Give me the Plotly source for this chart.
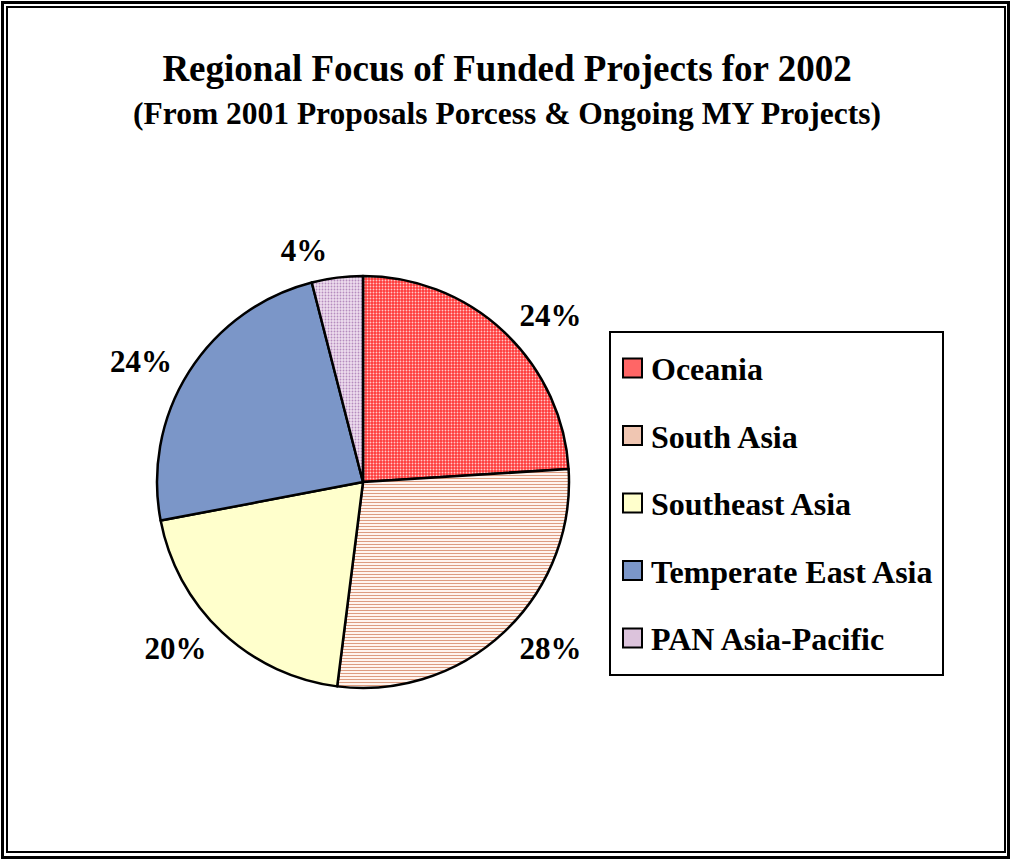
import plotly.graph_objects as go

W, H = 1012, 860

# ---- data ----
regions = ["Oceania", "South Asia", "Southeast Asia", "Temperate East Asia", "PAN Asia-Pacific"]
project_counts = [6, 7, 5, 6, 1]
title_text = "Regional Focus of Funded Projects for 2002"
subtitle_text = "(From 2001 Proposals Porcess & Ongoing MY Projects)"

# ---- styles ----
bg_colors = ["#FF3838", "#FFF4EE", "#FFFFCC", "#7B96C8", "#EEDDEE"]
fg_colors = ["#FFC8C8", "#D99274", "#FFFFCC", "#7B96C8", "#B58CBE"]
shapes_pat = [".", "-", "", "", "."]
swatch_colors = ["#FF6666", "#F0C6B2", "#FFFFCC", "#7B96C8", "#DCC3DC"]

FONT = "Liberation Serif"


def px(x):
    return x / W


def py(y):
    return 1 - y / H


cx, cy, r = 363, 482, 206
r_text = 216  # radius of the label-carrying (transparent) pie

fig = go.Figure()
# visible pie
fig.add_trace(go.Pie(
    labels=regions,
    values=project_counts,
    sort=False,
    direction="clockwise",
    rotation=0,
    textinfo="none",
    marker=dict(
        colors=bg_colors,
        line=dict(color="black", width=2.5),
        pattern=dict(shape=shapes_pat, fgcolor=fg_colors, bgcolor=bg_colors,
                     size=3, solidity=0.3, fillmode="replace"),
    ),
    domain=dict(x=[px(cx - r), px(cx + r)], y=[py(cy + r), py(cy - r)]),
    showlegend=False,
    hoverinfo="label+percent",
))
# transparent pie carrying the outside percentage labels a bit further out
fig.add_trace(go.Pie(
    labels=regions,
    values=project_counts,
    sort=False,
    direction="clockwise",
    rotation=0,
    textposition="outside",
    texttemplate="%{percent:.0%}",
    textfont=dict(family=FONT, size=31, color="black", weight="bold"),
    marker=dict(colors=["rgba(0,0,0,0)"] * len(regions), line=dict(width=0)),
    domain=dict(x=[px(cx - r_text), px(cx + r_text)], y=[py(cy + r_text), py(cy - r_text)]),
    showlegend=False,
    hoverinfo="skip",
))

shapes = []
# double page border
shapes.append(dict(type="rect", xref="paper", yref="paper",
                   x0=px(2.5), x1=px(1008.5), y0=py(857.5), y1=py(2.5),
                   line=dict(color="black", width=3)))
shapes.append(dict(type="rect", xref="paper", yref="paper",
                   x0=px(7), x1=px(1005), y0=py(852), y1=py(7),
                   line=dict(color="black", width=2)))
# legend box
shapes.append(dict(type="rect", xref="paper", yref="paper",
                   x0=px(610), x1=px(943), y0=py(675), y1=py(332),
                   line=dict(color="black", width=2), fillcolor="white"))

annotations = []
leg_y0, leg_step = 368, 67.5
for i, name in enumerate(regions):
    yc = leg_y0 + i * leg_step
    shapes.append(dict(type="rect", xref="paper", yref="paper",
                       x0=px(623), x1=px(642), y0=py(yc + 9.5), y1=py(yc - 9.5),
                       line=dict(color="black", width=2), fillcolor=swatch_colors[i]))
    annotations.append(dict(text=f"<b>{name}</b>", xref="paper", yref="paper",
                            x=px(649), y=py(yc + 1), xanchor="left", yanchor="middle",
                            showarrow=False,
                            font=dict(family=FONT, size=32, color="black")))

annotations.append(dict(text=f"<b>{subtitle_text}</b>", xref="paper", yref="paper",
                        x=px(507), y=py(114), xanchor="center", yanchor="middle",
                        showarrow=False,
                        font=dict(family=FONT, size=31.5, color="black")))

fig.update_layout(
    width=W, height=H,
    margin=dict(l=0, r=0, t=0, b=0),
    paper_bgcolor="white",
    plot_bgcolor="white",
    title=dict(text=f"<b>{title_text}</b>", x=0.501, xanchor="center",
               y=py(68), yanchor="middle", yref="container",
               font=dict(family=FONT, size=37, color="black")),
    shapes=shapes,
    annotations=annotations,
)

fig.write_html("out.html", config={"displayModeBar": False},
               post_script="document.body.style.margin='0px';")
